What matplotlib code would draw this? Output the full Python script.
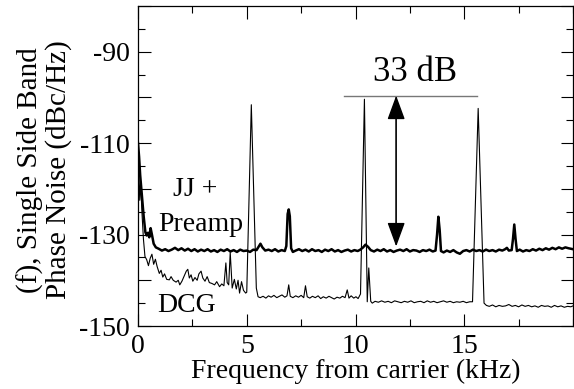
import matplotlib
matplotlib.use("Agg")
import matplotlib.pyplot as plt
from matplotlib.ticker import MultipleLocator

plt.rcParams['font.family'] = ['Liberation Serif', 'DejaVu Serif']

# JJ + Preamp (thick line): (frequency kHz, phase noise dBc/Hz)
jj_points = [
    (0.00, -110.0), (0.05, -113.0), (0.10, -117.0), (0.18, -121.5), (0.26, -126.0),
    (0.34, -129.5), (0.40, -130.2), (0.46, -129.6), (0.52, -130.6), (0.58, -128.6),
    (0.64, -130.0), (0.72, -132.0), (0.82, -132.8), (0.95, -133.1), (1.10, -133.5),
    (1.25, -133.2), (1.40, -133.6), (1.55, -133.3), (1.70, -132.9), (1.85, -133.4),
    (2.00, -133.0), (2.15, -133.5), (2.30, -133.1), (2.45, -133.6), (2.60, -133.2),
    (2.75, -133.7), (2.90, -133.3), (3.05, -133.6), (3.20, -133.2), (3.35, -133.7),
    (3.50, -133.4), (3.65, -133.8), (3.80, -133.3), (3.95, -133.6), (4.10, -133.2),
    (4.25, -133.7), (4.40, -133.4), (4.55, -133.8), (4.70, -133.3), (4.85, -133.6),
    (5.00, -133.5), (5.15, -133.8), (5.30, -133.3), (5.45, -133.4), (5.55, -132.6),
    (5.63, -132.0), (5.72, -132.8), (5.85, -133.5), (6.00, -133.3), (6.15, -133.6),
    (6.30, -133.2), (6.45, -133.7), (6.60, -133.4), (6.75, -133.6), (6.82, -132.5),
    (6.88, -125.5), (6.93, -124.5), (6.98, -126.0), (7.04, -133.0), (7.12, -133.8),
    (7.25, -133.5), (7.40, -133.2), (7.55, -133.6), (7.70, -133.3), (7.85, -133.7),
    (8.00, -133.2), (8.15, -133.6), (8.30, -133.4), (8.45, -133.8), (8.60, -133.3),
    (8.75, -133.6), (8.90, -133.2), (9.05, -133.7), (9.20, -133.4), (9.35, -133.8),
    (9.50, -133.5), (9.65, -133.3), (9.80, -133.7), (9.95, -133.4), (10.10, -133.6),
    (10.22, -133.3), (10.35, -132.8), (10.46, -132.2), (10.58, -132.7), (10.70, -133.4),
    (10.85, -133.7), (11.00, -133.3), (11.15, -133.6), (11.30, -133.2), (11.45, -133.7),
    (11.60, -133.4), (11.75, -133.8), (11.90, -133.5), (12.05, -133.3), (12.20, -133.6),
    (12.35, -133.2), (12.50, -133.7), (12.65, -133.4), (12.80, -133.5), (12.95, -133.8),
    (13.10, -133.4), (13.25, -133.6), (13.40, -133.3), (13.55, -133.7), (13.68, -133.5),
    (13.75, -130.0), (13.81, -126.1), (13.87, -129.0), (13.93, -133.6), (14.05, -133.9),
    (14.20, -133.5), (14.35, -133.8), (14.50, -133.4), (14.65, -133.9), (14.80, -134.2),
    (14.95, -133.6), (15.10, -133.4), (15.25, -133.7), (15.40, -133.3), (15.55, -133.6),
    (15.70, -133.4), (15.85, -133.7), (16.00, -133.3), (16.15, -133.6), (16.30, -133.4),
    (16.45, -133.7), (16.60, -133.3), (16.75, -133.5), (16.88, -133.2), (16.96, -132.9),
    (17.05, -133.5), (17.18, -133.4), (17.24, -131.0), (17.30, -127.8), (17.36, -131.0),
    (17.42, -133.6), (17.55, -133.3), (17.70, -133.7), (17.85, -133.4), (18.00, -133.6),
    (18.15, -133.2), (18.30, -133.5), (18.45, -133.1), (18.60, -133.4), (18.75, -133.0),
    (18.90, -133.3), (19.05, -132.9), (19.20, -133.2), (19.35, -132.8), (19.50, -133.1),
    (19.65, -132.8), (19.80, -133.0), (20.00, -133.2),
]

# DCG (thin line): (frequency kHz, phase noise dBc/Hz)
dcg_points = [
    (0.00, -110.0), (0.04, -116.0), (0.08, -122.5), (0.12, -118.5), (0.18, -125.0),
    (0.25, -131.0), (0.32, -134.8), (0.40, -135.5), (0.48, -136.8), (0.56, -135.2),
    (0.64, -134.3), (0.72, -136.5), (0.80, -135.4), (0.88, -137.0), (0.98, -138.5),
    (1.06, -137.8), (1.14, -139.3), (1.22, -138.6), (1.32, -139.8), (1.44, -139.9),
    (1.52, -139.2), (1.62, -140.0), (1.75, -140.4), (1.85, -140.0), (1.92, -141.0),
    (2.02, -140.2), (2.13, -139.0), (2.22, -138.0), (2.29, -137.6), (2.36, -139.5),
    (2.44, -138.8), (2.52, -140.2), (2.62, -139.4), (2.72, -140.0), (2.80, -138.6),
    (2.90, -138.0), (2.98, -139.5), (3.08, -140.2), (3.18, -139.2), (3.28, -140.5),
    (3.40, -140.7), (3.52, -141.0), (3.62, -140.3), (3.75, -141.4), (3.85, -140.8),
    (3.95, -141.2), (4.04, -136.2), (4.10, -140.5), (4.17, -141.0), (4.24, -133.9),
    (4.33, -141.7), (4.43, -139.8), (4.52, -141.9), (4.60, -140.0), (4.67, -142.8),
    (4.76, -140.3), (4.85, -142.2), (4.95, -142.8), (5.00, -142.6), (5.21, -101.6),
    (5.44, -141.7), (5.52, -143.6), (5.62, -143.8), (5.75, -143.5), (5.88, -143.9),
    (6.00, -143.4), (6.12, -143.7), (6.25, -143.3), (6.38, -143.8), (6.50, -143.5),
    (6.62, -143.2), (6.75, -143.7), (6.85, -143.4), (6.93, -141.0), (7.00, -143.5),
    (7.12, -143.8), (7.25, -143.4), (7.38, -143.7), (7.50, -143.3), (7.62, -143.8),
    (7.70, -141.2), (7.78, -143.6), (7.90, -143.9), (8.02, -143.5), (8.15, -143.8),
    (8.28, -143.4), (8.40, -144.0), (8.52, -143.6), (8.65, -143.9), (8.78, -143.5),
    (8.90, -143.8), (9.02, -144.1), (9.15, -143.7), (9.28, -143.9), (9.40, -143.5),
    (9.52, -143.8), (9.62, -142.1), (9.70, -143.9), (9.80, -143.4), (9.92, -143.9),
    (10.02, -143.6), (10.12, -144.0), (10.23, -143.0), (10.41, -100.4), (10.54, -144.7),
    (10.61, -137.3), (10.70, -144.6), (10.77, -145.0), (10.90, -144.6), (11.05, -144.8),
    (11.20, -144.5), (11.35, -144.8), (11.50, -144.6), (11.65, -144.9), (11.80, -144.5),
    (11.95, -144.7), (12.10, -144.9), (12.25, -144.6), (12.40, -144.8), (12.55, -144.5),
    (12.70, -144.9), (12.85, -144.7), (13.00, -144.6), (13.15, -144.9), (13.30, -144.5),
    (13.45, -144.8), (13.60, -144.6), (13.75, -144.9), (13.90, -144.7), (14.05, -144.5),
    (14.20, -144.8), (14.35, -144.6), (14.50, -144.9), (14.65, -144.7), (14.80, -144.8),
    (14.95, -144.6), (15.10, -144.9), (15.25, -144.7), (15.38, -144.7), (15.64, -102.4),
    (15.91, -145.0), (16.02, -145.5), (16.15, -145.7), (16.30, -145.4), (16.45, -145.8),
    (16.60, -145.5), (16.75, -145.7), (16.90, -145.6), (17.05, -145.3), (17.20, -145.7),
    (17.35, -145.5), (17.50, -145.8), (17.65, -145.4), (17.80, -145.7), (17.95, -145.5),
    (18.10, -145.8), (18.25, -145.6), (18.40, -145.9), (18.55, -145.5), (18.70, -145.7),
    (18.85, -145.6), (19.00, -145.9), (19.15, -145.5), (19.30, -145.8), (19.45, -145.6),
    (19.60, -145.9), (19.75, -145.7), (19.90, -145.8), (20.00, -145.6),
]

x_major_ticks = [0, 5, 10, 15]
x_tick_labels = ['0', '5', '10', '15']
y_major_ticks = [-150, -140, -130, -120, -110, -100, -90, -80]
y_tick_labels = ['-150', '', '-130', '', '-110', '', '-90', '']

jj_freq, jj_db = zip(*jj_points)
dcg_freq, dcg_db = zip(*dcg_points)

fig = plt.figure(figsize=(5.74, 3.89), dpi=100)
ax = fig.add_axes([138/574, 63/389, 435/574, 320/389])

ax.plot(dcg_freq, dcg_db, color='black', lw=0.8)
ax.plot(jj_freq, jj_db, color='black', lw=1.8)

ax.set_xlim(0, 20)
ax.set_ylim(-150, -80)

ax.set_xticks(x_major_ticks)
ax.set_xticklabels(x_tick_labels)
ax.xaxis.set_minor_locator(MultipleLocator(2.5))
ax.set_yticks(y_major_ticks)
ax.set_yticklabels(y_tick_labels)
ax.yaxis.set_minor_locator(MultipleLocator(5))

ax.tick_params(which='both', direction='in', top=True, right=True, labelsize=20, width=0.8)
ax.tick_params(which='major', length=9)
ax.tick_params(which='minor', length=5)
ax.tick_params(axis='y', pad=6)
ax.tick_params(axis='x', pad=6)
for s in ax.spines.values():
    s.set_linewidth(0.9)

ax.set_xlabel('Frequency from carrier (kHz)', fontsize=20, labelpad=0)
fig.text(44/574, 1 - 170/389, '(f), Single Side Band\nPhase Noise (dBc/Hz)', rotation=90,
         ha='center', va='center', fontsize=21, linespacing=1.05)

# annotations
ax.plot([9.45, 15.6], [-99.6, -99.6], color='#777777', lw=1.0)
ax.annotate('', xy=(11.87, -132.6), xytext=(11.87, -99.6),
            arrowprops=dict(arrowstyle='<|-|>,head_length=1.5,head_width=0.55',
                            color='black', lw=1.0, shrinkA=0, shrinkB=0))
ax.plot([11.87, 11.87], [-104.3, -128.2], color='#777777', lw=1.2)
ax.text(12.72, -96.5, '33 dB', fontsize=25, ha='center', va='baseline')
ax.text(2.63, -121.6, 'JJ +', fontsize=20, ha='center', va='baseline')
ax.text(2.87, -129.3, 'Preamp', fontsize=20, ha='center', va='baseline')
ax.text(2.22, -146.9, 'DCG', fontsize=20, ha='center', va='baseline')

fig.savefig('out.png', dpi=100)
